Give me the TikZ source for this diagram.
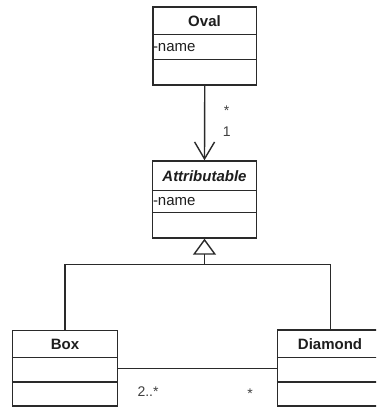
\documentclass[tikz,border=0pt]{standalone}
\usepackage{fontspec}
\setmainfont{Liberation Sans}
\usetikzlibrary{arrows.meta}
\definecolor{linec}{HTML}{2A2A2A}
\definecolor{textc}{HTML}{1E1E1E}
\definecolor{labc}{HTML}{404040}
\begin{document}
\begin{tikzpicture}[x=1pt,y=-1pt,
  cls/.style={draw=linec, line width=1.4pt, rectangle, inner sep=0pt},
  sep/.style={draw=linec, line width=1.4pt},
  conn/.style={draw=linec, line width=1.4pt},
  ctitle/.style={inner sep=0pt, text=textc, font=\fontsize{15}{18}\selectfont\bfseries},
  cattr/.style={inner sep=0pt, anchor=west, text=textc, font=\fontsize{15}{18}\selectfont},
  mlab/.style={inner sep=0pt, text=labc, font=\fontsize{14}{17}\selectfont}]
\useasboundingbox (0,0) rectangle (376,411);
\clip (0,0) rectangle (376,411);
\fill[white] (0,0) rectangle (376,411);

% class boxes
\node[cls, minimum width=103.5pt, minimum height=78pt] (oval) at (204.75,46) {};
\node[cls, minimum width=104pt, minimum height=77pt] (attr) at (204.5,199.5) {};
\node[cls, minimum width=105pt, minimum height=75.5pt] (box) at (65,368.25) {};
\node[cls, minimum width=106.5pt, minimum height=76pt] (diamond) at (330.75,368) {};

% compartments
\draw[sep] ([yshift=-28pt]oval.north west) -- ([yshift=-28pt]oval.north east);
\draw[sep] ([yshift=-53pt]oval.north west) -- ([yshift=-53pt]oval.north east);
\draw[sep] ([yshift=-30pt]attr.north west) -- ([yshift=-30pt]attr.north east);
\draw[sep] ([yshift=-52pt]attr.north west) -- ([yshift=-52pt]attr.north east);
\draw[sep] ([yshift=-27.5pt]box.north west) -- ([yshift=-27.5pt]box.north east);
\draw[sep] ([yshift=-52pt]box.north west) -- ([yshift=-52pt]box.north east);
\draw[sep] ([yshift=-28pt]diamond.north west) -- ([yshift=-28pt]diamond.north east);
\draw[sep] ([yshift=-52.5pt]diamond.north west) -- ([yshift=-52.5pt]diamond.north east);

% texts
\node[ctitle] (ovalt) at (204.5,21) {Oval};
\node[cattr] (ovala) at (152.8,47.5) {-name};
\node[ctitle] (attrt) at (204.5,176) {\itshape Attributable};
\node[cattr] (attra) at (152.8,202) {-name};
\node[ctitle] (boxt) at (65,344.5) {Box};
\node[ctitle] (diamondt) at (330,344) {Diamond};

% association Oval -> Attributable
\draw[conn, -{Straight Barb[length=17pt,width=20pt,line width=1.4pt]}] (oval.south) -- (attr.north);
\node[mlab, anchor=base] (m1) at (226.7,116) {*};
\node[mlab, anchor=base] (m2) at (226.7,136.7) {1};

% generalization
\coordinate (gj) at (204.5,264.3);
\draw[conn] (box.north) |- (gj) -| (diamond.north);
\draw[conn, -{Triangle[open,length=16pt,width=23pt,line width=1.4pt]}] (gj) -- (attr.south);

% association Box -- Diamond
\draw[conn] (box.east) -- (box.east -| diamond.west);
\node[mlab, anchor=base west] (m3) at (137.3,396.7) {2..*};
\node[mlab, anchor=base] (m4) at (250,398.5) {*};
\end{tikzpicture}
\end{document}
